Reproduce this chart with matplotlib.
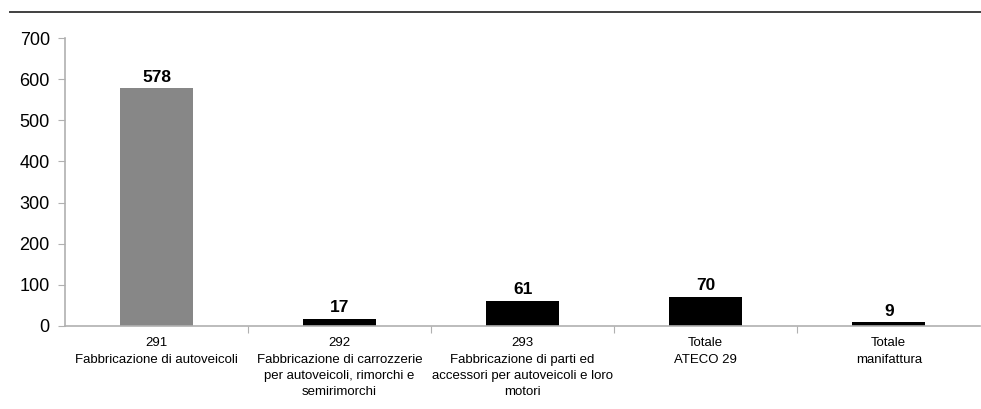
import matplotlib.pyplot as plt
from matplotlib.lines import Line2D

plt.rcParams["font.family"] = ["Liberation Sans", "DejaVu Sans"]

codes = ["291", "292", "293", "Totale", "Totale"]
names = [
    "Fabbricazione di autoveicoli",
    "Fabbricazione di carrozzerie\nper autoveicoli, rimorchi e\nsemirimorchi",
    "Fabbricazione di parti ed\naccessori per autoveicoli e loro\nmotori",
    "ATECO 29",
    "manifattura",
]
values = [578, 17, 61, 70, 9]
bar_colors = ["#878787", "#000000", "#000000", "#000000", "#000000"]

fig = plt.figure(figsize=(9.81, 4.09), dpi=100)
ax = fig.add_axes([0.0663, 0.203, 0.933, 0.704])

x = range(len(values))
ax.bar(x, values, width=0.4, color=bar_colors, zorder=2)
for xi, v in zip(x, values):
    ax.text(xi, v + 9, str(v), ha="center", va="bottom",
            fontsize=12.5, fontweight="bold")

ax.set_xlim(-0.5, len(values) - 0.5)
ax.set_ylim(0, 700)
ax.set_yticks(range(0, 701, 100))
ax.tick_params(axis="y", labelsize=13, length=5, color="#b0b0b0", pad=6)

# category boundaries carry the tick marks, labels sit in the middle
ax.set_xticks([i + 0.5 for i in range(len(values) - 1)])
ax.set_xticklabels([])
ax.tick_params(axis="x", length=5, color="#b0b0b0")
for xi, (c, n) in enumerate(zip(codes, names)):
    ax.text(xi, -28, f"{c}\n{n}", ha="center", va="top", fontsize=9.5,
            linespacing=1.48, transform=ax.transData)

for side in ("top", "right"):
    ax.spines[side].set_visible(False)
for side in ("left", "bottom"):
    ax.spines[side].set_color("#b0b0b0")
    ax.spines[side].set_linewidth(1.2)

fig.add_artist(Line2D([0.01, 1.0], [0.971, 0.971], color="#404040",
                      linewidth=1.4, transform=fig.transFigure))

fig.savefig("out.png", dpi=100, facecolor="white")
